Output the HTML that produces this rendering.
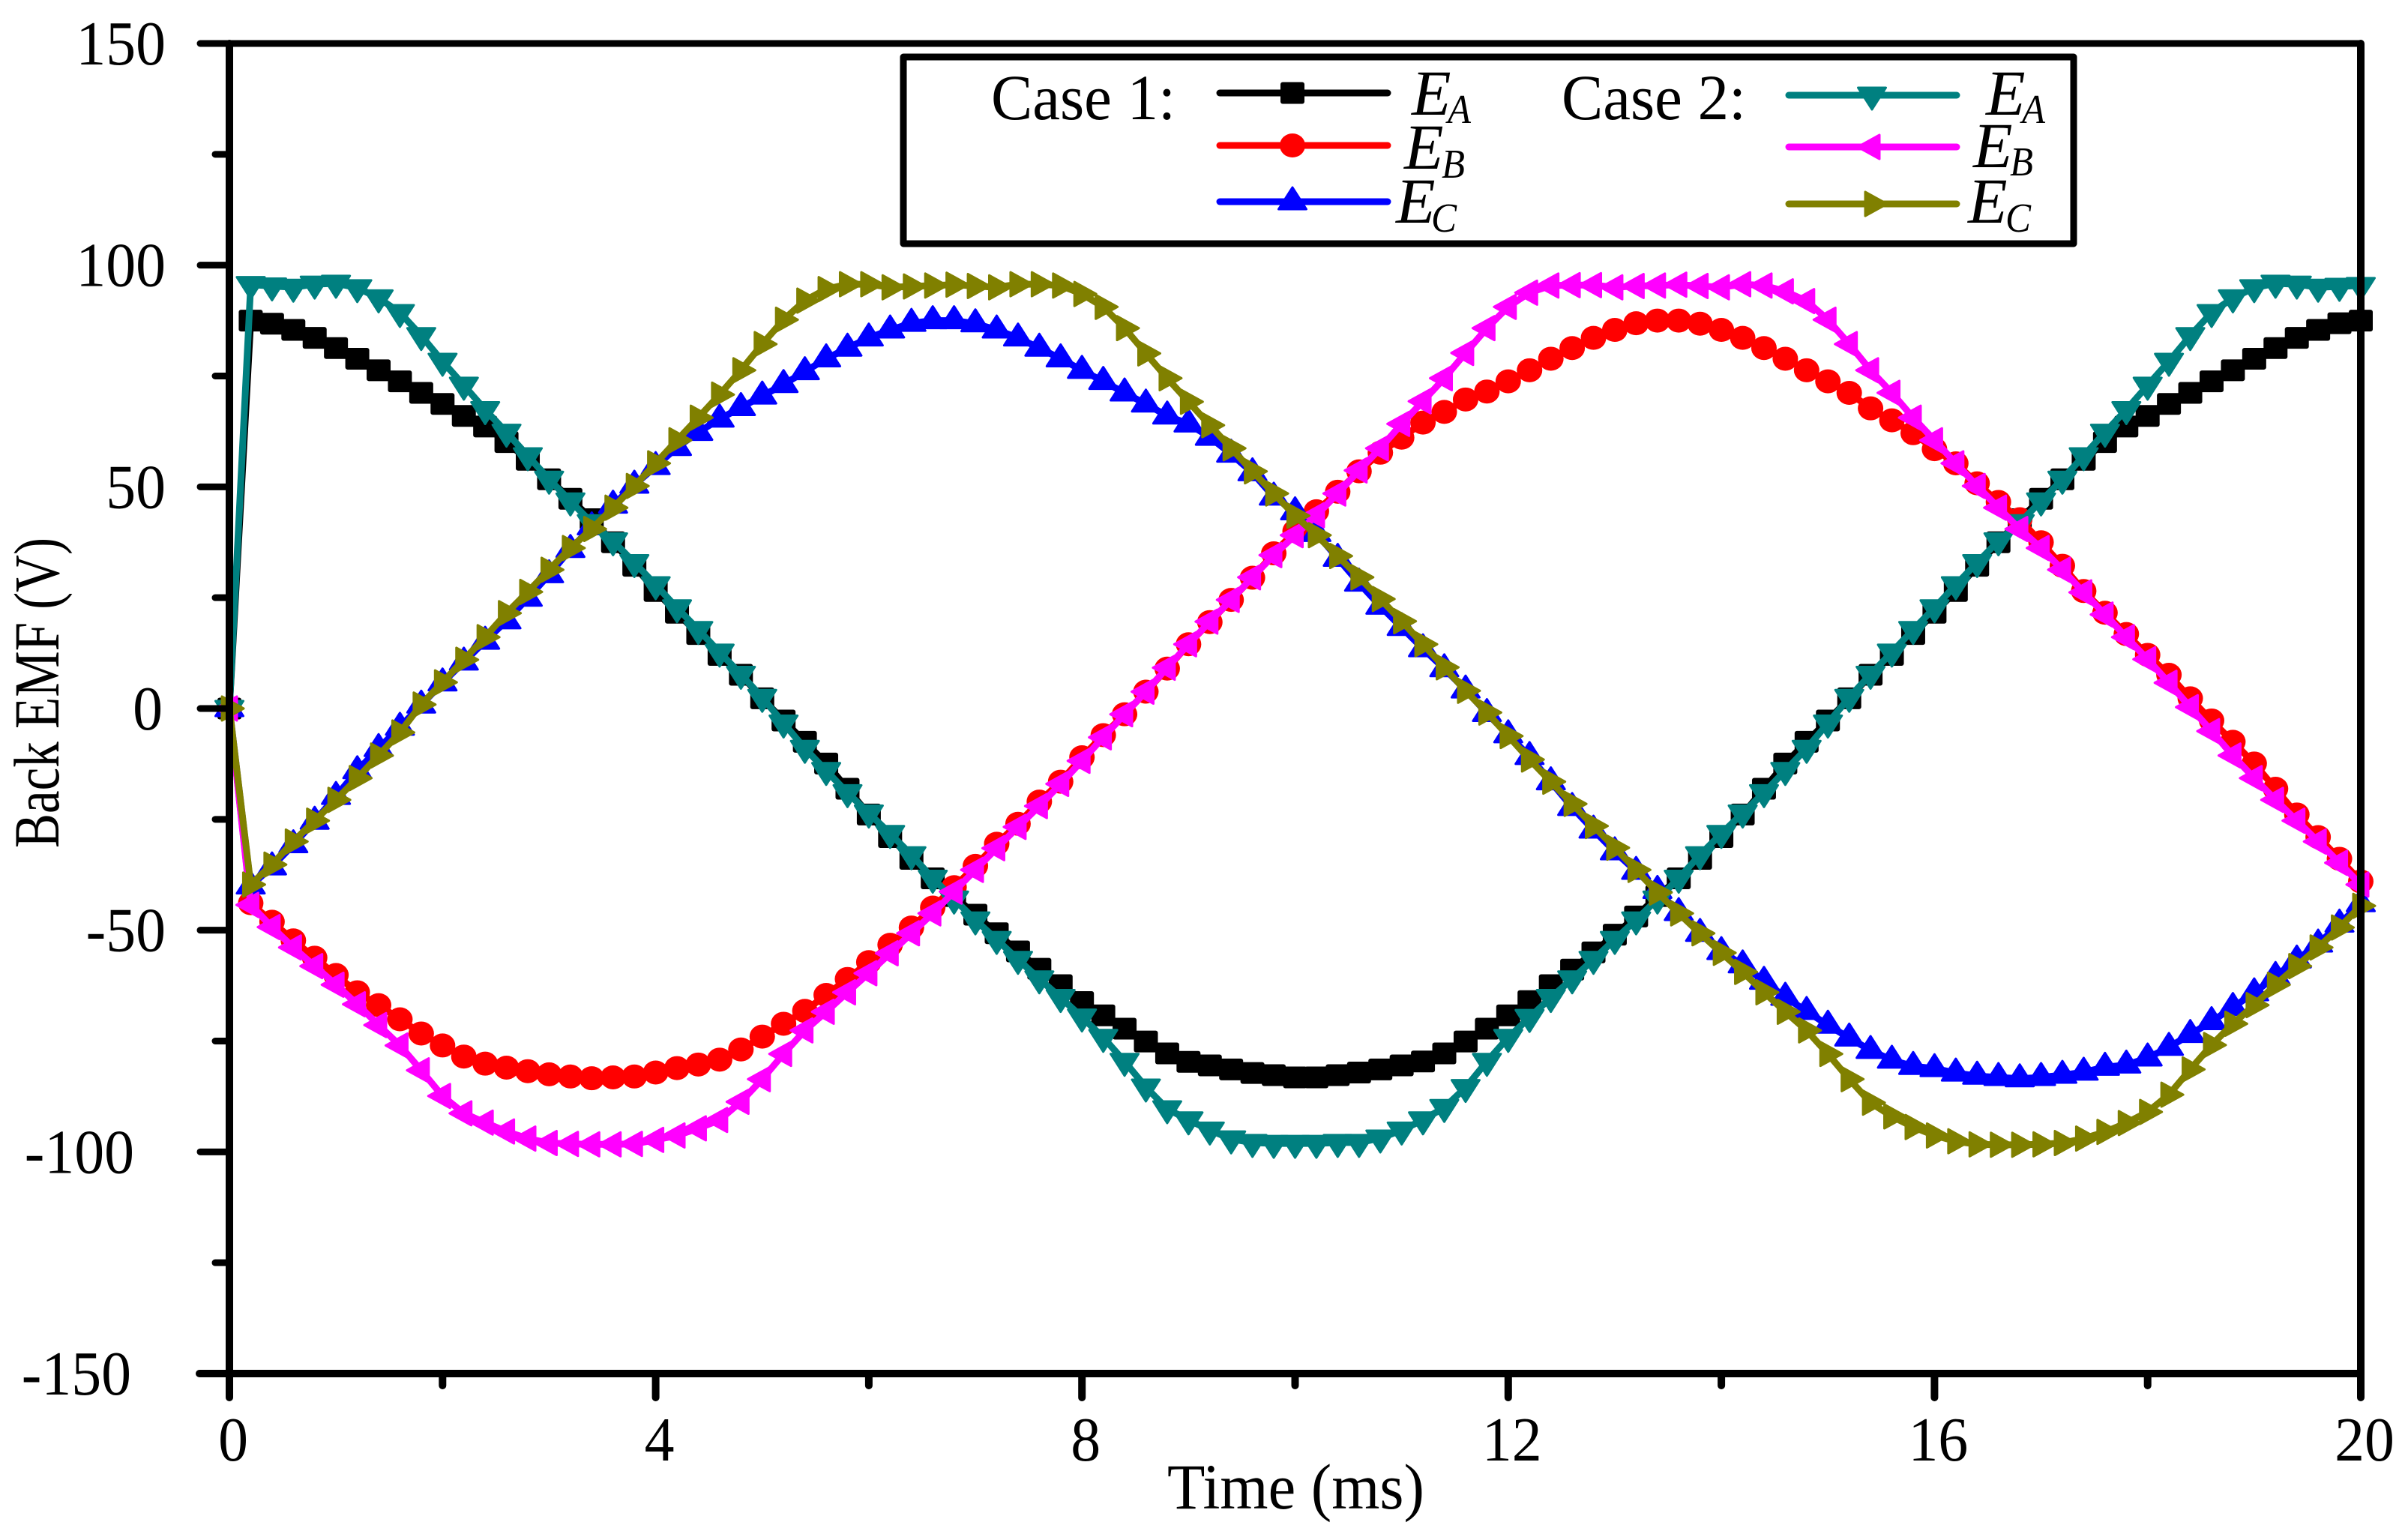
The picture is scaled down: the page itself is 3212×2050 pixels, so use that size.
<!DOCTYPE html>
<html lang="en">
<head>
<meta charset="utf-8">
<title>Back EMF vs Time</title>
<style>
html,body{margin:0;padding:0;background:#fff;width:3212px;height:2050px;overflow:hidden}
svg{display:block}
text{font-family:"Liberation Serif",serif;fill:#000}
</style>
</head>
<body>
<svg id="chart" xmlns="http://www.w3.org/2000/svg" width="3212" height="2050" viewBox="0 0 3212 2050">
  <rect x="0" y="0" width="3212" height="2050" fill="#fff"/>
  <g id="series-layer"></g>
  <g id="axis-layer"></g>
  <text x="1557" y="2012" font-size="86" textLength="343" lengthAdjust="spacingAndGlyphs">Time (ms)</text>
  <text transform="translate(78,1131) rotate(-90)" font-size="86" textLength="414" lengthAdjust="spacingAndGlyphs">Back EMF (V)</text>
  <g id="legend">
    <rect x="1205" y="76" width="1561" height="249" fill="#fff" stroke="#000" stroke-width="9" stroke-linejoin="round"/>
    <text x="1322" y="159" font-size="86" textLength="246" lengthAdjust="spacingAndGlyphs">Case 1:</text>
    <text x="2083" y="159" font-size="86" textLength="246" lengthAdjust="spacingAndGlyphs">Case 2:</text>
    <g id="legend-marks"></g>
    <g><text x="1883" y="153" font-size="86" font-style="italic">E</text><text x="1931" y="164" font-size="55" font-style="italic" textLength="31" lengthAdjust="spacingAndGlyphs">A</text></g>
    <g><text x="1873" y="225" font-size="86" font-style="italic">E</text><text x="1923" y="237" font-size="55" font-style="italic" textLength="31" lengthAdjust="spacingAndGlyphs">B</text></g>
    <g><text x="1862" y="297" font-size="86" font-style="italic">E</text><text x="1909" y="309" font-size="55" font-style="italic" textLength="34" lengthAdjust="spacingAndGlyphs">C</text></g>
    <g><text x="2649" y="153" font-size="86" font-style="italic">E</text><text x="2697" y="164" font-size="55" font-style="italic" textLength="31" lengthAdjust="spacingAndGlyphs">A</text></g>
    <g><text x="2632" y="223" font-size="86" font-style="italic">E</text><text x="2681" y="234" font-size="55" font-style="italic" textLength="31" lengthAdjust="spacingAndGlyphs">B</text></g>
    <g><text x="2625" y="297" font-size="86" font-style="italic">E</text><text x="2675" y="309" font-size="55" font-style="italic" textLength="34" lengthAdjust="spacingAndGlyphs">C</text></g>
  </g>
</svg>
<script>
const times = [0,0.2,0.4,0.6,0.8,1,1.2,1.4,1.6,1.8,2,2.2,2.4,2.6,2.8,3,3.2,3.4,3.6,3.8,4,4.2,4.4,4.6,4.8,5,5.2,5.4,5.6,5.8,6,6.2,6.4,6.6,6.8,7,7.2,7.4,7.6,7.8,8,8.2,8.4,8.6,8.8,9,9.2,9.4,9.6,9.8,10,10.2,10.4,10.6,10.8,11,11.2,11.4,11.6,11.8,12,12.2,12.4,12.6,12.8,13,13.2,13.4,13.6,13.8,14,14.2,14.4,14.6,14.8,15,15.2,15.4,15.6,15.8,16,16.2,16.4,16.6,16.8,17,17.2,17.4,17.6,17.8,18,18.2,18.4,18.6,18.8,19,19.2,19.4,19.6,19.8,20];

const case1EA = [0,87.5,86.8,85.4,83.6,81.3,78.9,76.3,73.8,71.2,68.7,66,63.6,60.1,56.1,51.7,47.3,42.7,37.5,32.2,26.5,21.6,16.8,12.1,7.6,2.3,-2.7,-7.5,-12.4,-18.1,-23.9,-29,-33.9,-38.3,-42.3,-46.5,-50.7,-54.8,-58.7,-62.4,-66.2,-69.2,-72.2,-75.1,-77.8,-79.7,-80.5,-81.4,-82.2,-82.7,-83.2,-83.2,-82.7,-82.1,-81.4,-80.5,-79.6,-77.8,-75.1,-72.2,-69.2,-66,-62.4,-58.9,-55,-51,-46.9,-42.3,-38.3,-33.9,-29,-23.9,-18.1,-12.4,-7.5,-2.7,2.3,7.6,12.1,16.8,21.6,26.5,32.2,37.5,42.7,47.3,51.7,56.1,60.1,63.6,66,68.7,71.2,73.8,76.3,78.9,81.3,83.6,85.4,86.9,87.5];

const case1EB = [0,-43.9,-48.1,-52.3,-56.2,-60.1,-64,-66.9,-70.1,-73.3,-76,-78.5,-80.1,-81,-81.8,-82.5,-83,-83.4,-83.2,-83,-82.1,-81.1,-80.3,-79.2,-76.9,-74,-71.1,-68.2,-64.6,-61,-57.2,-53.3,-49.4,-44.9,-40.3,-35.5,-30.5,-26,-21,-16.5,-11,-6,-1.3,3.8,9,14.5,19.5,24.5,29.5,35,40,44.5,48.9,53.5,57.7,61.1,64.5,66.9,69.7,71.5,73.8,76.3,78.9,81.3,83.6,85.4,86.9,87.5,87.5,86.8,85.4,83.6,81.3,78.9,76.3,73.8,71.2,67.7,65,62.1,58.5,55.3,50.8,46.6,42.7,37.5,32.2,26.5,21.6,16.8,12.1,7.6,2.3,-2.7,-7.5,-12.4,-18.1,-23.9,-29,-33.9,-39];

const case1EC = [0,-40,-35.7,-30.7,-25.4,-19.8,-14,-9,-4.2,0.8,5.8,10.5,15.2,19.8,24.9,30.2,35.9,41,45.9,50.4,54.6,58.9,62.3,65.3,67.9,70.5,73.1,76,78.9,81.3,83.6,85.4,86.9,87.5,87.5,86.8,85.4,83.6,81.3,78.9,76.3,73.8,71.2,68.7,66,64.2,61.2,57.4,53.2,47.7,44.4,39.5,33.9,28.3,23.1,18.3,13.5,9,4.2,-1.1,-5.9,-10.8,-16.5,-22.3,-27.4,-32.3,-36.7,-41,-46,-50.7,-54.8,-57.8,-61.5,-65.1,-68.3,-71.4,-74.3,-77.1,-79.3,-80.7,-81.2,-82.2,-82.9,-83.2,-83.5,-83.2,-82.7,-82,-80.9,-80.4,-78.8,-76.4,-73.5,-70.6,-67.4,-64.1,-60.4,-56.7,-53.1,-48.6,-44];

const case2EA = [0,95.6,95.3,95,95.7,95.9,94.9,92.6,89.3,84.1,78.3,72.9,67.4,62.3,57,51.7,46.8,41.9,37.8,32.9,27.9,22.7,17.8,12.7,7.7,2.5,-3.3,-9,-14,-19,-23.6,-28.2,-33,-38.3,-43,-47.7,-52.1,-56.6,-61,-65.2,-69.6,-74.2,-79.6,-85.4,-90.3,-92.8,-95.1,-97.1,-97.9,-98.1,-98.1,-98.1,-97.9,-97.9,-96.9,-95.1,-92.8,-90,-85.5,-79.6,-74.2,-69.7,-65.2,-61,-56.6,-52.1,-47.7,-43,-38.3,-33,-28.2,-23.6,-19,-14,-9,-3.3,2.5,7.7,12.7,17.8,22.7,27.9,32.9,37.8,41.9,46.8,51.7,57,62.3,67.4,72.9,78.3,84.1,89.3,92.6,94.9,95.9,95.7,95,95.2,95.4];

const case2EB = [0,-44.3,-49.3,-53.9,-58.1,-62.3,-66.7,-71.4,-76,-81.6,-87.4,-91.3,-93.4,-95.4,-97,-98,-98.2,-98.3,-98.3,-98.2,-97.3,-96.3,-94.7,-92.8,-88.7,-83.6,-77.9,-72.6,-68.4,-64,-59.7,-55.2,-50.7,-46.2,-41.3,-36.4,-31.5,-26.7,-22,-17,-11.8,-6.5,-1.3,3.8,9.2,14.5,19.6,24.5,29.6,34.6,39.1,43.6,48.5,53.7,58.7,64.2,69.3,74.5,80.2,85.8,90.6,93.8,95.4,95.5,95.5,95,95.3,95.4,95.6,95.3,95,95.7,95.4,94.1,91.9,87.7,82.2,76.3,71.2,65.6,60.5,55.3,50.2,45.3,40.5,36.2,31.3,26.2,21.2,16.1,11.1,5.8,0.3,-5.1,-10.6,-15.7,-20.6,-25.3,-30,-34.8,-39.7];

const case2EC = [0,-39.7,-35.2,-30,-25.3,-20.6,-15.7,-10.6,-5.4,0.9,5.9,11,16.1,21.5,26.3,31.3,36.2,40.5,45.3,50.2,55.3,60.5,65.6,70.8,76.3,82.2,87.7,92,94.6,95.7,95.7,95,95.2,95.4,95.6,95.3,95,95.7,95.7,95.4,93.5,90.6,85.8,80.1,74.5,69.2,63.9,58.7,53.5,48.5,43.5,39.1,34.4,29.6,24.7,19.7,14.5,9.3,4,-0.9,-6.2,-11.5,-16.5,-21.5,-26.5,-31.4,-36.4,-41.5,-46.2,-50.7,-55.1,-59.4,-64,-68.4,-72.6,-77.9,-83.6,-88.9,-92,-94.4,-96.3,-97.6,-98.3,-98.4,-98.4,-98.3,-98,-97,-95.5,-93.5,-91,-87.1,-81.4,-75.9,-71.1,-66.9,-62.3,-58.1,-53.9,-49.4,-44.5];

const xMajorTicks = [0,4,8,12,16,20];
const xMinorTicks = [2,6,10,14,18];
const yMajorTicks = [150,100,50,0,-50,-100,-150];
const yMinorTicks = [125,75,25,-25,-75,-125];

const NS = 'http://www.w3.org/2000/svg';
const seriesLayer = document.getElementById('series-layer');
const axisLayer = document.getElementById('axis-layer');
const legendMarks = document.getElementById('legend-marks');

function xAxis(t){ return 306 + (t / 20) * 2843; }
function yAxis(v){ return 945 - v * (887 / 150); }

function make(tag, attrs){
  const el = document.createElementNS(NS, tag);
  for (const k in attrs) el.setAttribute(k, attrs[k]);
  return el;
}

function shape(kind, cx, cy, color){
  if (kind === 'square') {
    return make('rect', {x: cx - 16, y: cy - 14.5, width: 32, height: 29, rx: 3, fill: color});
  }
  if (kind === 'circle') {
    return make('ellipse', {cx: cx, cy: cy, rx: 17, ry: 16, fill: color});
  }
  let pts;
  if (kind === 'up') pts = [[0,-19],[18.5,10],[-18.5,10]];
  if (kind === 'down') pts = [[0,19],[18.5,-10],[-18.5,-10]];
  if (kind === 'left') pts = [[-19,0],[10,-16],[10,16]];
  if (kind === 'right') pts = [[19,0],[-10,-16],[-10,16]];
  const points = pts.map(function(p){ return (cx + p[0]) + ',' + (cy + p[1]); }).join(' ');
  return make('polygon', {points: points, fill: color, stroke: color, 'stroke-width': 3, 'stroke-linejoin': 'round'});
}

function drawSeries(name, values, color, kind){
  const group = make('g', {});
  
  
  const pts = values.map(function(v, i){ return xAxis(times[i]) + ',' + yAxis(v); }).join(' ');
  const line = make('polyline', {points: pts, fill: 'none', stroke: color, 'stroke-width': 9, 'stroke-linejoin': 'round'});
  
  
  group.appendChild(line);
  values.forEach(function(v, i){
    const mark = shape(kind, xAxis(times[i]), yAxis(v), color);
    
    
    group.appendChild(mark);
  });
  seriesLayer.appendChild(group);
}

drawSeries('series-case-1-ea', case1EA, '#000000', 'square');
drawSeries('series-case-1-eb', case1EB, '#ff0000', 'circle');
drawSeries('series-case-1-ec', case1EC, '#0000ff', 'up');
drawSeries('series-case-2-ea', case2EA, '#008080', 'down');
drawSeries('series-case-2-eb', case2EB, '#ff00ff', 'left');
drawSeries('series-case-2-ec', case2EC, '#808000', 'right');

function axisLine(name, x1, y1, x2, y2, width){
  const l = make('line', {x1: x1, y1: y1, x2: x2, y2: y2, stroke: '#000', 'stroke-width': width, 'stroke-linecap': 'round'});
  
  
  axisLayer.appendChild(l);
}

const plotLeft = xAxis(0), plotRight = xAxis(20), plotTop = yAxis(150), plotBottom = yAxis(-150);
axisLine('y-axis-line-left', plotLeft, plotTop, plotLeft, 1864, 10);
axisLine('y-axis-line-right', plotRight, plotTop, plotRight, 1864, 10);
axisLine('x-axis-line-top', 267, plotTop, plotRight, plotTop, 9);
axisLine('x-axis-line-bottom', 266, plotBottom, plotRight, plotBottom, 10);

xMajorTicks.forEach(function(t){
  if (t !== 0 && t !== 20) axisLine('x-major-tick', xAxis(t), plotBottom, xAxis(t), 1864, 10);
  const label = make('text', {transform: 'translate(' + (xAxis(t) + 5) + ',1948) scale(0.95,1)', 'font-size': 84, 'text-anchor': 'middle'});
  label.textContent = String(t);
  
  
  axisLayer.appendChild(label);
});
xMinorTicks.forEach(function(t){
  axisLine('x-minor-tick', xAxis(t), plotBottom, xAxis(t), 1848, 10);
});

function yLabelRight(v){
  if (v === -150) return 175;
  if (v === -100) return 179;
  if (v === 0) return 217;
  return 221;
}
yMajorTicks.forEach(function(v){
  if (v !== 150 && v !== -150) axisLine('y-major-tick', 267, yAxis(v), plotLeft, yAxis(v), 9);
  const label = make('text', {transform: 'translate(' + yLabelRight(v) + ',' + (yAxis(v) + 28) + ') scale(0.95,1)', 'font-size': 84, 'text-anchor': 'end'});
  label.textContent = String(v);
  
  
  axisLayer.appendChild(label);
});
yMinorTicks.forEach(function(v){
  axisLine('y-minor-tick', 287, yAxis(v), plotLeft, yAxis(v), 9);
});

function legendEntry(name, x1, x2, mx, y, color, kind){
  const line = make('line', {x1: x1, y1: y, x2: x2, y2: y, stroke: color, 'stroke-width': 9, 'stroke-linecap': 'round'});
  
  
  legendMarks.appendChild(line);
  const mark = shape(kind, mx, y, color);
  
  
  legendMarks.appendChild(mark);
}
legendEntry('legend-entry-case-1-ea', 1627, 1851, 1724, 124, '#000000', 'square');
legendEntry('legend-entry-case-1-eb', 1627, 1851, 1724, 194, '#ff0000', 'circle');
legendEntry('legend-entry-case-1-ec', 1627, 1851, 1724, 269, '#0000ff', 'up');
legendEntry('legend-entry-case-2-ea', 2386, 2610, 2497, 127, '#008080', 'down');
legendEntry('legend-entry-case-2-eb', 2386, 2610, 2497, 196, '#ff00ff', 'left');
legendEntry('legend-entry-case-2-ec', 2386, 2610, 2498, 272, '#808000', 'right');
</script>
</body>
</html>
